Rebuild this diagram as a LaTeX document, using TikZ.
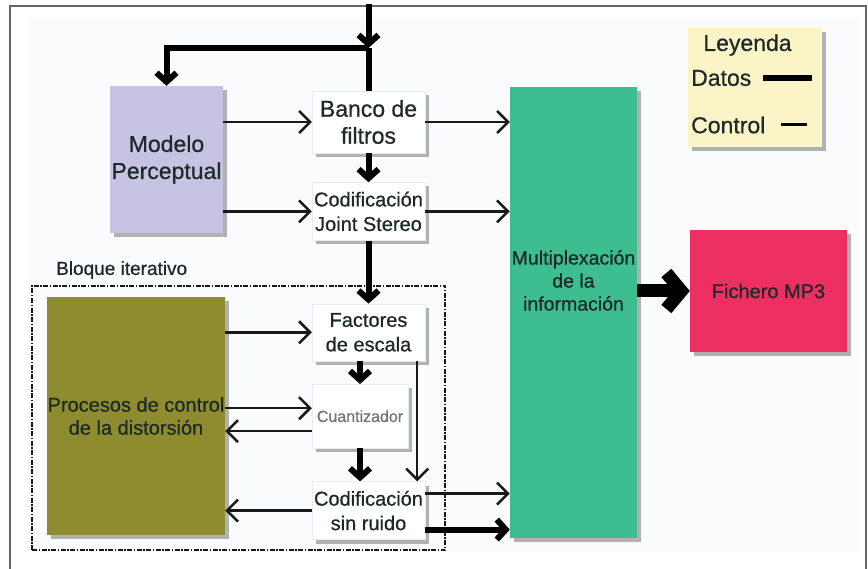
\documentclass[tikz,border=0pt]{standalone}
\usepackage{fontspec}
\setmainfont{Liberation Sans}[FakeBold=0.7]
\usetikzlibrary{arrows.meta,positioning,shadows}
\definecolor{txt}{HTML}{1F2929}
\definecolor{lavanda}{HTML}{C6C4E2}
\definecolor{verde}{HTML}{3DBD90}
\definecolor{rosa}{HTML}{EE2F62}
\definecolor{oliva}{HTML}{8E8C2E}
\definecolor{crema}{HTML}{FBF4C6}
\definecolor{fondo}{HTML}{FAFBFD}

\begin{document}
\begin{tikzpicture}[
        x=1pt, y=-1pt,
        box/.style={draw=black!8, fill=white, rectangle, inner sep=0pt, align=center, text=txt,
            drop shadow={shadow xshift=4pt, shadow yshift=-4pt, opacity=.6}},
        big/.style={font=\fontsize{23}{27}\selectfont},
        mid/.style={font=\fontsize{20}{24.5}\selectfont},
        datos/.style={line width=6pt, draw=black},
        ctrl/.style={line width=2.5pt, draw=black!90},
        dtip/.style={-{Straight Barb[length=9pt,width=20pt]}},
        ctip/.style={-{Straight Barb[length=11pt,width=22pt]}}
    ]
        \useasboundingbox (0,0) rectangle (868,569);
        \fill[fondo] (28,18) rectangle (860,552);
        \draw[black!60, line width=2pt] (10,569) -- (10,6) -- (866,6) -- (866,569);

        \node[draw=black!90, line width=2pt, dash pattern=on 5pt off 1.5pt on 1.5pt off 1.5pt,
            rectangle, inner sep=0pt, minimum width=413pt, minimum height=264pt] (iter) at (238.5,418) {};
        \node[text=txt, anchor=west, inner sep=0pt, font=\fontsize{19}{23}\selectfont] (bloque) at (56,270) {Bloque iterativo};

        \node[box, big, minimum width=113pt, minimum height=62pt] (banco) at (368.5,122) {Banco de\\filtros};
        \node[box, mid, minimum width=113pt, minimum height=58pt, below=29pt of banco] (joint) {Codificación\\Joint Stereo};
        \node[box, mid, minimum width=113pt, minimum height=57pt, below=63pt of joint] (factores) {Factores\\de escala};
        \node[box, minimum width=96pt, minimum height=64pt, below=23pt of factores.south west, anchor=north west,
            font=\fontsize{16}{19}\selectfont, text=black!55] (cuant) {Cuantizador};
        \node[box, mid, minimum width=113pt, minimum height=58pt, below=33pt of cuant.south west, anchor=north west] (ruido) {Codificación\\sin ruido};

        \node[box, big, fill=lavanda, draw=none, minimum width=113pt, minimum height=147pt] (modelo) at (166.5,159.5) {Modelo\\Perceptual};
        \node[box, fill=oliva, draw=none, minimum width=178pt, minimum height=238pt,
            font=\fontsize{20}{23}\selectfont] (proc) at (136,416) {Procesos de control\\de la distorsión};
        \node[box, fill=verde, draw=none, minimum width=127pt, minimum height=451pt,
            label={[align=center, text=txt, yshift=32pt, font=\fontsize{19.5}{23}\selectfont]center:Multiplexación\\de la\\información}] (mux) at (573.5,312.5) {};
        \node[box, mid, fill=rosa, draw=none, minimum width=157pt, minimum height=122pt] (mp3) at (768.5,291) {Fichero MP3};
        \node[box, fill=crema, draw=none, minimum width=134pt, minimum height=119pt] (ley) at (755,87.5) {};

        \node[big, text=txt, inner sep=0pt] (leyT) at (747.5,45) {Leyenda};
        \node[big, text=txt, inner sep=0pt, anchor=west] (datosT) at (691,78) {Datos};
        \node[big, text=txt, inner sep=0pt, anchor=west] (ctrlT) at (691,125) {Control};
        \draw[line width=6pt] ([xshift=12pt]datosT.east) -- ++(49,0);
        \draw[line width=3pt] ([xshift=15pt]ctrlT.east) -- ++(26,0);

        \coordinate (in) at (368.5,4);
        \coordinate (split) at (368.5,48);
        \draw[datos, dtip] (in) -- (split);
        \draw[datos] (split) -- (banco.north);
        \draw[datos, dtip] (split) -| (modelo.north);

        \draw[datos, dtip] (banco) -- (joint);
        \draw[datos, dtip] (joint) -- (factores);
        \draw[datos, dtip] (factores.south -| cuant.north) -- (cuant.north);
        \draw[datos, dtip] (cuant.south) -- (cuant.south |- ruido.north);

        \draw[ctrl, ctip] (banco.west -| modelo.east) -- (banco.west);
        \draw[ctrl, ctip] (joint.west -| modelo.east) -- (joint.west);
        \draw[ctrl, ctip] (banco.east) -- (banco.east -| mux.west);
        \draw[ctrl, ctip] (joint.east) -- (joint.east -| mux.west);

        \draw[ctrl, ctip] (proc.east |- factores.west) -- (factores.west);
        \draw[ctrl, ctip] ([yshift=8pt]cuant.west -| proc.east) -- ([yshift=8pt]cuant.west);
        \draw[ctrl, ctip] ([yshift=-15pt]cuant.west) -- ([yshift=-15pt]cuant.west -| proc.east);
        \draw[ctrl, ctip] (ruido.west) -- (ruido.west -| proc.east);
        \draw[ctrl, ctip] ([xshift=-8pt]factores.south east) -- ([xshift=-8pt]ruido.north east);

        \draw[ctrl, ctip] ([yshift=17pt]ruido.east) -- ([yshift=17pt]ruido.east -| mux.west);
        \draw[datos, dtip] ([yshift=-19pt]ruido.east) -- ([yshift=-19pt]ruido.east -| mux.west);

        \draw[line width=13pt, -{Straight Barb[length=15pt,width=36pt]}] (mp3.west -| mux.east) -- (mp3.west);
    \end{tikzpicture}
\end{document}
